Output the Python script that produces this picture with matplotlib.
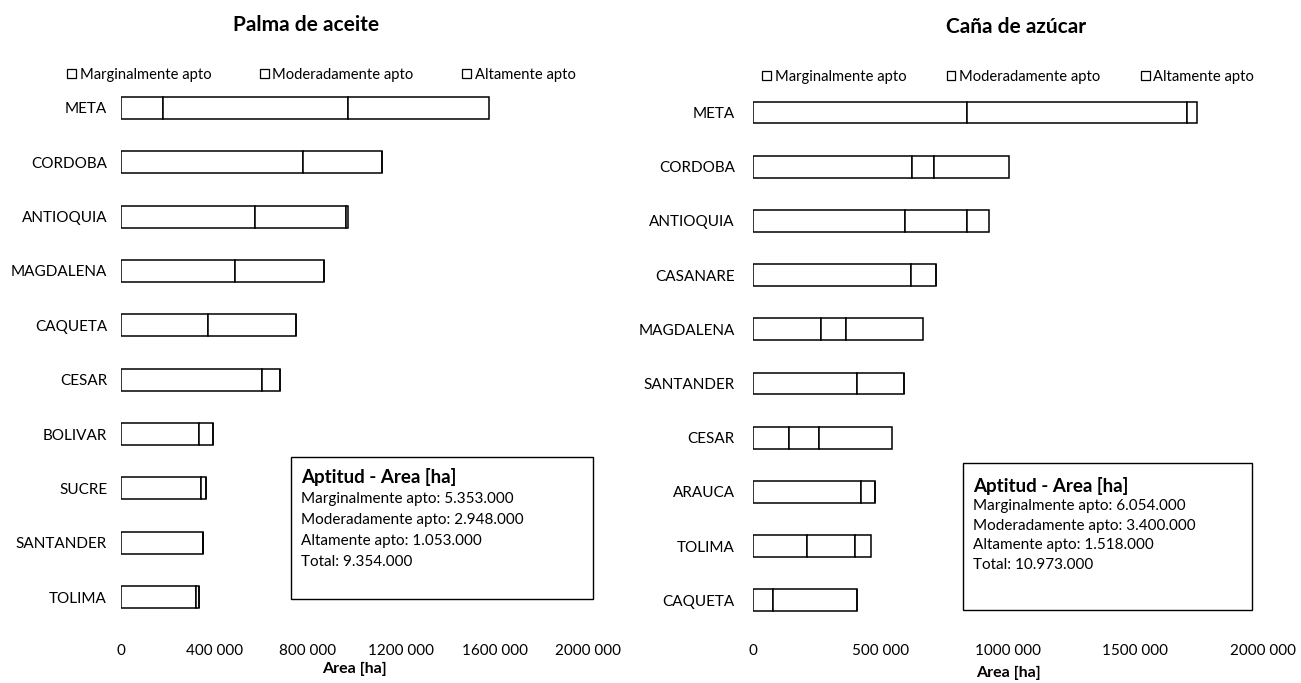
import matplotlib
matplotlib.use("Agg")
import matplotlib.pyplot as plt
from matplotlib.patches import Rectangle, Patch
import numpy as np

plt.rcParams['font.family'] = ['Lato', 'DejaVu Sans']

# ---------------- data ----------------
palma_title = "Palma de aceite"
palma_cats = ["META", "CORDOBA", "ANTIOQUIA", "MAGDALENA", "CAQUETA",
              "CESAR", "BOLIVAR", "SUCRE", "SANTANDER", "TOLIMA"]
palma_marg = [180000, 779000, 573000, 488000, 372000, 603000, 334000, 342000, 351000, 321000]
palma_mod = [791000, 338000, 389000, 381000, 376000, 77000, 60000, 21000, 0, 15000]
palma_alt = [603000, 0, 9000, 0, 0, 0, 0, 0, 0, 0]
palma_box = ["Aptitud - Area [ha]",
             "Marginalmente apto: 5.353.000",
             "Moderadamente apto: 2.948.000",
             "Altamente apto: 1.053.000",
             "Total: 9.354.000"]
palma_ticks = [0, 400000, 800000, 1200000, 1600000, 2000000]
palma_ticklabels = ["0", "400 000", "800 000", "1200 000", "1600 000", "2000 000"]

cana_title = "Caña de azúcar"
cana_cats = ["META", "CORDOBA", "ANTIOQUIA", "CASANARE", "MAGDALENA",
             "SANTANDER", "CESAR", "ARAUCA", "TOLIMA", "CAQUETA"]
cana_marg = [838000, 623000, 596000, 619000, 266000, 407000, 141000, 423000, 212000, 78000]
cana_mod = [862000, 86000, 243000, 98000, 98000, 184000, 118000, 55000, 188000, 329000]
cana_alt = [43000, 294000, 86000, 0, 302000, 0, 286000, 0, 63000, 0]
cana_box = ["Aptitud - Area [ha]",
            "Marginalmente apto: 6.054.000",
            "Moderadamente apto: 3.400.000",
            "Altamente apto: 1.518.000",
            "Total: 10.973.000"]
cana_ticks = [0, 500000, 1000000, 1500000, 2000000]
cana_ticklabels = ["0", "500 000", "1000 000", "1500 000", "2000 000"]

series_names = ["Marginalmente apto", "Moderadamente apto", "Altamente apto"]
xlabel = "Area [ha]"

# ---------------- figure ----------------
W, H = 1301, 683
fig = plt.figure(figsize=(W / 100, H / 100), dpi=100)
fig.patch.set_facecolor("white")


def px(x, y):
    return x / W, 1 - y / H


def panel(rect, cats, m, mo, a, ticks, ticklabels, title, title_xy,
          leg_xy, colspace, box, box_rect, box_lines_y, labpad, tickpad, xlab_y):
    ax = fig.add_axes(rect)
    y = np.arange(len(cats))
    m = np.array(m); mo = np.array(mo); a = np.array(a)
    kw = dict(height=0.4, color="white", edgecolor="black", linewidth=1.1)
    ax.barh(y, m, **kw)
    ax.barh(y, mo, left=m, **kw)
    ax.barh(y, a, left=m + mo, **kw)
    ax.set_xlim(0, 2000000)
    ax.set_ylim(len(cats) - 0.5, -0.5)
    ax.set_yticks(y)
    ax.set_yticklabels(cats, fontsize=11)
    ax.set_xticks(ticks)
    ax.set_xticklabels(ticklabels, fontsize=11)
    ax.tick_params(axis="y", length=0, pad=labpad)
    ax.tick_params(axis="x", length=0, pad=tickpad)
    for s in ax.spines.values():
        s.set_visible(False)
    fig.text(*px(*title_xy), title, fontsize=15, fontweight="bold",
             ha="center", va="center")
    fig.text(*px((rect[0] + rect[2] / 2) * W, xlab_y), xlabel, fontsize=11.5,
             fontweight="bold", ha="center", va="center")
    handles = [Patch(facecolor="white", edgecolor="black", linewidth=0.9)
               for _ in series_names]
    fig.legend(handles, series_names, ncol=3, loc="center left",
               bbox_to_anchor=px(*leg_xy), frameon=False, fontsize=10.6,
               handlelength=0.6, handleheight=0.6, handletextpad=0.25,
               columnspacing=colspace, borderpad=0, borderaxespad=0)
    x0, y0, x1, y1 = box_rect
    fig.patches.append(Rectangle(px(x0, y1), (x1 - x0) / W, (y1 - y0) / H,
                                 transform=fig.transFigure, fill=False,
                                 edgecolor="black", linewidth=1.0))
    for i, (txt, yy) in enumerate(zip(box, box_lines_y)):
        fig.text(*px(x0 + 10, yy), txt, fontsize=13.5 if i == 0 else 11,
                 fontweight="bold" if i == 0 else "normal",
                 ha="left", va="center")
    return ax


panel([121 / W, 1 - 624.2 / H, (588 - 121) / W, (624.2 - 80.8) / H],
      palma_cats, palma_marg, palma_mod, palma_alt,
      palma_ticks, palma_ticklabels, palma_title, (306, 25),
      (67, 75), 3.3, palma_box, (291, 457, 593, 599),
      [477, 499, 520, 541, 562], 10, 14, 669)

panel([753 / W, 1 - 627.4 / H, (1263 - 753) / W, (627.4 - 85.4) / H],
      cana_cats, cana_marg, cana_mod, cana_alt,
      cana_ticks, cana_ticklabels, cana_title, (1016, 27),
      (762, 77), 2.75, cana_box, (963, 463, 1252, 610),
      [486, 506, 526, 545, 565], 13, 12, 673)

fig.savefig("out.png", dpi=100, facecolor="white")
